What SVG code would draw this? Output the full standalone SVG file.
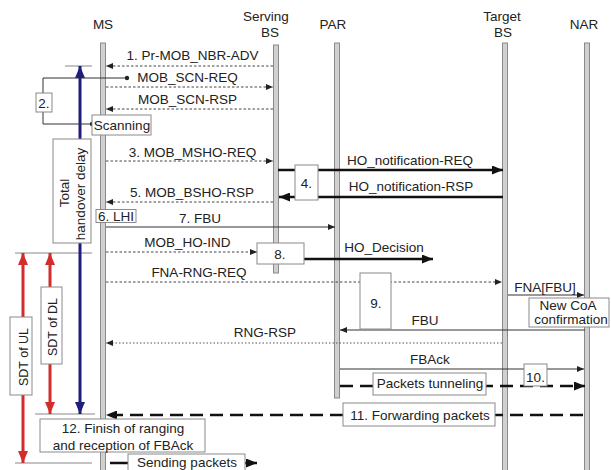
<svg xmlns="http://www.w3.org/2000/svg" width="611" height="470" viewBox="0 0 611 470">
<defs>
<marker id="a" markerUnits="userSpaceOnUse" markerWidth="7" markerHeight="6" refX="7" refY="3" orient="auto"><path d="M0,0 L7,3 L0,6 z" fill="#222"/></marker>
<marker id="b" markerUnits="userSpaceOnUse" markerWidth="11" markerHeight="9" refX="11" refY="4.5" orient="auto"><path d="M0,0 L11,4.5 L0,9 z" fill="#111"/></marker>
<marker id="nv" markerUnits="userSpaceOnUse" markerWidth="12" markerHeight="10" refX="12" refY="5" orient="auto-start-reverse"><path d="M0,0 L12,5 L0,10 z" fill="#1e1e7e"/></marker>
<marker id="rd" markerUnits="userSpaceOnUse" markerWidth="12" markerHeight="10" refX="12" refY="5" orient="auto-start-reverse"><path d="M0,0 L12,5 L0,10 z" fill="#d42b2b"/></marker>
</defs>
<style>
text{font-family:"Liberation Sans",Arial,sans-serif;font-size:13.5px;fill:#222;text-anchor:middle}
.sm{font-size:12.5px}
.life{fill:#d0d0d0;stroke:#8a8a8a;stroke-width:1}
.box{fill:#fff;stroke:#8a8a8a;stroke-width:1}
.dot{fill:none;stroke:#444;stroke-width:1;stroke-dasharray:2.5 2}
.fine{fill:none;stroke:#555;stroke-width:1;stroke-dasharray:1.5 2}
.thin{fill:none;stroke:#333;stroke-width:1}
.thick{fill:none;stroke:#111;stroke-width:2.5}
.dash{fill:none;stroke:#111;stroke-width:2.5;stroke-dasharray:13 7}
.tick{stroke:#888;stroke-width:1}
</style>

<g id="ms">
<text x="103" y="29">MS</text>
<rect class="life" x="100.5" y="43" width="5" height="430"/>
</g>
<g id="serving-bs">
<text x="266" y="21">Serving</text>
<text x="270" y="37">BS</text>
<rect class="life" x="273.5" y="45" width="5" height="228"/>
</g>
<g id="par">
<text x="333" y="29">PAR</text>
<rect class="life" x="334.5" y="43" width="5" height="355"/>
</g>
<g id="target-bs">
<text x="502" y="21">Target</text>
<text x="503" y="37">BS</text>
<rect class="life" x="502.5" y="43" width="5" height="430"/>
</g>
<g id="nar">
<text x="584" y="29">NAR</text>
<rect class="life" x="584.5" y="43" width="5" height="430"/>
</g>

<g id="connectors">
<line class="tick" x1="65" y1="66" x2="92" y2="66"/>
<line class="tick" x1="15" y1="253" x2="92" y2="253"/>
<line class="tick" x1="35" y1="414" x2="95" y2="414"/>
<line class="tick" x1="15" y1="463" x2="92" y2="463"/>
<line x1="80" y1="66" x2="80" y2="414" stroke="#1e1e7e" stroke-width="3" marker-start="url(#nv)" marker-end="url(#nv)"/>
<line x1="23" y1="253" x2="23" y2="463" stroke="#d42b2b" stroke-width="3" marker-start="url(#rd)" marker-end="url(#rd)"/>
<line x1="50" y1="253" x2="50" y2="414" stroke="#d42b2b" stroke-width="3" marker-start="url(#rd)" marker-end="url(#rd)"/>

<path class="thin" d="M127,78 H43 V124 H92"/>
<circle cx="127" cy="78" r="2.2" fill="#222"/>
<circle cx="92" cy="124" r="2.2" fill="#222"/>

<text x="192.5" y="60">1. Pr-MOB_NBR-ADV</text>
<path class="dot" d="M273,66 H106" marker-end="url(#a)"/>
<text x="187.5" y="82">MOB_SCN-REQ</text>
<path class="dot" d="M106,87 H273" marker-end="url(#a)"/>
<text x="187.5" y="104">MOB_SCN-RSP</text>
<path class="dot" d="M273,109 H106" marker-end="url(#a)"/>
<text x="192.5" y="157">3. MOB_MSHO-REQ</text>
<path class="dot" d="M106,161 H273" marker-end="url(#a)"/>
<text x="192" y="197">5. MOB_BSHO-RSP</text>
<path class="dot" d="M273,202 H106" marker-end="url(#a)"/>
<text x="200" y="223">7. FBU</text>
<path class="thin" d="M106,227 H335" marker-end="url(#a)"/>
<text x="187.5" y="247">MOB_HO-IND</text>
<path class="dot" d="M106,252 H257" marker-end="url(#a)"/>
<text x="199" y="277">FNA-RNG-REQ</text>
<path class="dot" d="M106,282 H502" marker-end="url(#a)"/>

<text x="410" y="165">HO_notification-REQ</text>
<path class="thick" d="M278,170 H503" marker-end="url(#b)"/>
<text x="411" y="191">HO_notification-RSP</text>
<path class="thick" d="M503,197 H279" marker-end="url(#b)"/>
<text x="384" y="252">HO_Decision</text>
<path class="thick" d="M304,259 H433" marker-end="url(#b)"/>

<text x="545" y="292">FNA[FBU]</text>
<path class="thin" d="M508,295 H584" marker-end="url(#a)"/>
<text x="425" y="325">FBU</text>
<path class="thin" d="M585,330 H340" marker-end="url(#a)"/>
<text x="265" y="337">RNG-RSP</text>
<path class="fine" d="M502,343 H106" marker-end="url(#a)"/>
<text x="430" y="364">FBAck</text>
<path class="thin" d="M340,369 H584" marker-end="url(#a)"/>
<path class="dash" d="M340,386 H585" marker-end="url(#b)"/>
<path class="dash" d="M583,415 H106" marker-end="url(#b)"/>
<path class="thick" d="M110,463 H128"/>
<path class="thick" d="M245,463 H257" marker-end="url(#b)"/>
</g>

<g id="box-2"><rect class="box" x="36" y="93" width="16" height="19"/><text x="44" y="107.5">2.</text></g>
<g id="scanning"><rect class="box" x="92" y="115" width="59" height="20"/><text x="122" y="130">Scanning</text></g>
<g id="total-delay"><rect class="box" x="53" y="139" width="38" height="104"/>
<text transform="translate(69,193) rotate(-90)">Total</text>
<text transform="translate(84.5,194) rotate(-90)">handover delay</text></g>
<g id="box-4"><rect class="box" x="295" y="165" width="23" height="35"/><text x="306.5" y="188">4.</text></g>
<g id="lhi"><rect class="box" x="96" y="209.5" width="40" height="13"/><text x="116" y="221">6. LHI</text></g>
<g id="box-8"><rect class="box" x="257" y="243" width="47" height="21"/><text x="280" y="259">8.</text></g>
<g id="box-9"><rect class="box" x="360" y="273" width="31" height="56"/><text x="376" y="308">9.</text></g>
<g id="new-coa"><rect class="box" x="529" y="298" width="80" height="29"/><text x="568" y="310">New CoA</text><text x="571" y="324">confirmation</text></g>
<g id="sdt-dl"><rect class="box" x="41" y="287" width="21" height="77"/><text class="sm" transform="translate(57,327) rotate(-90)">SDT of DL</text></g>
<g id="sdt-ul"><rect class="box" x="10" y="317" width="22" height="78"/><text class="sm" transform="translate(27.5,357) rotate(-90)">SDT of UL</text></g>
<g id="box-10"><rect class="box" x="524" y="364" width="23" height="22"/><text x="535.5" y="382">10.</text></g>
<g id="tunneling"><rect class="box" x="373" y="373" width="113" height="22"/><text x="430" y="388">Packets tunneling</text></g>
<g id="forwarding"><rect class="box" x="343" y="403" width="152" height="23"/><text x="420" y="420">11. Forwarding packets</text></g>
<g id="finish"><rect class="box" x="40" y="419" width="165" height="33"/><text x="123" y="433">12. Finish of ranging</text><text x="123" y="450">and reception of FBAck</text></g>
<g id="sending"><rect class="box" x="128" y="454" width="117" height="22"/><text x="187" y="466.5">Sending packets</text></g>
</svg>
